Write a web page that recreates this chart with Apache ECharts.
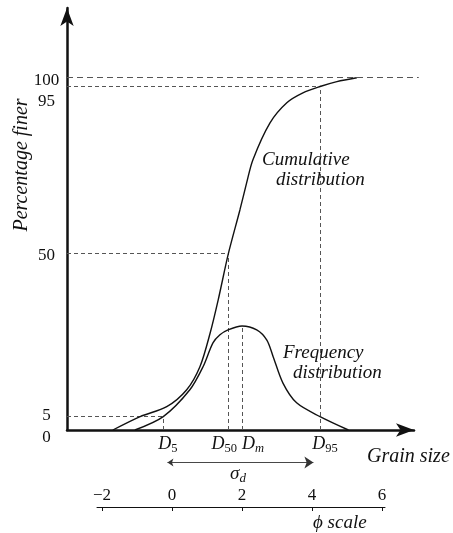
<!DOCTYPE html>
<html><head><meta charset="utf-8">
<script src="https://cdn.jsdelivr.net/npm/echarts@6/dist/echarts.min.js"></script>
<style>html,body{margin:0;padding:0;background:#fff}#c{width:453px;height:533px}</style>
</head><body><div id="c"></div>
<script>
// ---- data (x in phi units, y in percentage finer as drawn) ----
const cumPhi = [-1.69, -0.91, -0.15, 0.42, 0.80, 1.09, 1.32, 1.61, 1.94, 2.13, 2.31, 2.80, 3.28, 3.74, 4.23, 4.71, 5.28];
const cumPct = [0, 3.8, 6.6, 11.4, 18.0, 27.5, 36.9, 50.0, 62.4, 70.0, 76.6, 87.1, 92.8, 95.6, 97.4, 98.8, 99.9];
const freqPhi = [-1.06, -0.25, 0.51, 0.89, 1.17, 1.37, 1.60, 2.00, 2.42, 2.71, 2.89, 3.17, 3.56, 4.23, 5.04];
const freqVal = [0, 3.8, 11.4, 18.0, 24.7, 27.0, 28.4, 29.5, 28.4, 25.5, 20.8, 13.3, 7.7, 3.8, 0];
const levelLabels = ['0', '5', '50', '95', '100'];
const levelValues = [0, 3.8, 50, 97.6, 100];
const dSubs = ['5', '50', 'm', '95'];
const dPhi = [-0.26, 1.61, 2.0, 4.23];
const dTop = [3.8, 50, 29.5, 97.6];
const phiTicks = [-2, 0, 2, 4, 6];
const topLineEnd = 7.05;
const sigmaPhi = [-0.13, 4.04];
const sigmaLevel = -9.2;

// ---- chart ----
const X_MIN = -3, X_MAX = 6.914, Y_MAX = 119.67;
const serif = "'Liberation Serif','DejaVu Serif',serif";
const ink = '#111';
const dashC = '#555';
const chart = echarts.init(document.getElementById('c'));

const nearest = (arr, v) => { let b = 0; arr.forEach((a, i) => { if (Math.abs(a - v) < Math.abs(arr[b] - v)) b = i; }); return b; };

const yRich = {
  y0: { padding: [16, 0, 0, 0] },
  y1: { padding: [0, 0, 3, 0] },
  y2: { padding: [4, 0, 0, 0] },
  y3: { padding: [32, 0, 0, 0] },
  y4: { padding: [7, 0, 0, 0] }
};
Object.values(yRich).forEach(r => Object.assign(r, { fontFamily: serif, fontSize: 17, color: ink }));

const dPadL = [10, 0, 22, 10], dPadR = [0, 8, 0, 0];
const xRich = {};
dSubs.forEach((s, i) => {
  xRich['d' + i] = { fontFamily: serif, fontStyle: 'italic', fontSize: 18, color: ink, padding: [0, 0, 0, dPadL[i]] };
  xRich['s' + i] = { fontFamily: serif, fontStyle: s === 'm' ? 'italic' : 'normal', fontSize: 12.5, color: ink, padding: [9, dPadR[i], 0, 0] };
});

const guides = [
  { coords: [[X_MIN, levelValues[4]], [topLineEnd, levelValues[4]]], lineStyle: { type: [6, 4] } },
  { coords: [[X_MIN, levelValues[3]], [dPhi[3], levelValues[3]]] },
  { coords: [[X_MIN, levelValues[2]], [dPhi[1], levelValues[2]]] },
  { coords: [[X_MIN, levelValues[1]], [dPhi[0], levelValues[1]]] }
].concat(dPhi.map((p, i) => ({ coords: [[p, 0], [p, dTop[i]]] })));

const txt = (text, x, y, size, extra) => ({
  type: 'text', x, y, silent: true,
  style: Object.assign({ text, fontFamily: serif, fontStyle: 'italic', fontSize: size, fill: ink, align: 'left', verticalAlign: 'middle' }, extra || {})
});

chart.setOption({
  animation: false,
  backgroundColor: '#fff',
  grid: [
    { left: 67, top: 8, width: 347, height: 422 },
    { left: 97, top: 470, width: 288, height: 37 }
  ],
  xAxis: [
    {
      type: 'value', gridIndex: 0, min: X_MIN, max: X_MAX,
      axisLine: { show: true, onZero: false, symbol: ['none', 'arrow'], symbolSize: [10, 18], lineStyle: { color: ink, width: 2.5 } },
      axisTick: { show: false }, splitLine: { show: false },
      axisLabel: {
        customValues: dPhi, margin: 3, color: ink,
        formatter: v => { const i = nearest(dPhi, v); return '{d' + i + '|D}{s' + i + '|' + dSubs[i] + '}'; },
        rich: xRich
      }
    },
    {
      type: 'value', gridIndex: 1, min: -2.143, max: 6.086,
      axisLine: { show: true, onZero: false, lineStyle: { color: ink, width: 1 } },
      axisTick: { show: true, customValues: phiTicks, length: 4, lineStyle: { color: ink, width: 1 } },
      splitLine: { show: false },
      axisLabel: {
        customValues: phiTicks, inside: true, margin: 3, color: ink, fontFamily: serif, fontSize: 17,
        formatter: v => (v < 0 ? '\u2212' + Math.abs(v) : String(v))
      }
    }
  ],
  yAxis: [
    {
      type: 'value', gridIndex: 0, min: 0, max: Y_MAX,
      axisLine: { show: true, onZero: false, symbol: ['none', 'arrow'], symbolSize: [10, 18], lineStyle: { color: ink, width: 2.5 } },
      axisTick: { show: false }, splitLine: { show: false },
      axisLabel: {
        customValues: levelValues, margin: 20.5, align: 'center', color: ink,
        formatter: v => { const i = nearest(levelValues, v); return '{y' + i + '|' + levelLabels[i] + '}'; },
        rich: yRich
      }
    },
    { type: 'value', gridIndex: 1, min: 0, max: 1, show: false }
  ],
  series: [
    {
      name: 'guides', type: 'lines', coordinateSystem: 'cartesian2d', xAxisIndex: 0, yAxisIndex: 0,
      clip: false, silent: true, symbol: 'none',
      lineStyle: { color: dashC, width: 1, type: [4, 3], opacity: 1 },
      data: guides, z: 2
    },
    {
      name: 'sigma', type: 'lines', coordinateSystem: 'cartesian2d', xAxisIndex: 0, yAxisIndex: 0,
      clip: false, silent: true, symbol: ['arrow', 'arrow'], symbolSize: [6, 9],
      lineStyle: { color: '#333', width: 0.9, opacity: 1 },
      data: [{ coords: [[sigmaPhi[0], sigmaLevel], [sigmaPhi[1], sigmaLevel]] }]
    },
    {
      name: 'Cumulative distribution', type: 'line', xAxisIndex: 0, yAxisIndex: 0,
      data: cumPhi.map((p, i) => [p, cumPct[i]]), smooth: 0.3,
      symbol: 'none', lineStyle: { color: ink, width: 1.4 }, z: 3, clip: false
    },
    {
      name: 'Frequency distribution', type: 'line', xAxisIndex: 0, yAxisIndex: 0,
      data: freqPhi.map((p, i) => [p, freqVal[i]]), smooth: 0.3,
      symbol: 'none', lineStyle: { color: ink, width: 1.4 }, z: 3, clip: false
    }
  ],
  graphic: [
    txt('Percentage finer', 22, 165, 20, { align: 'center' }),
    txt('Grain size', 367, 457, 20),
    txt('Cumulative', 262, 160, 19),
    txt('distribution', 276, 180, 19),
    txt('Frequency', 283, 353, 19),
    txt('distribution', 293, 373, 19),
    txt('\u03d5 scale', 313, 523, 19),
    {
      type: 'text', x: 238, y: 474, silent: true,
      style: {
        text: '{a|\u03c3}{b|d}', align: 'center', verticalAlign: 'middle', fill: ink,
        rich: {
          a: { fontFamily: serif, fontStyle: 'italic', fontSize: 19, fill: ink },
          b: { fontFamily: serif, fontStyle: 'italic', fontSize: 13, padding: [9, 0, 0, 0], fill: ink }
        }
      }
    }
  ]
});
// rotate the y-axis title
chart.setOption({ graphic: [{ rotation: Math.PI / 2 }] });
</script></body></html>
